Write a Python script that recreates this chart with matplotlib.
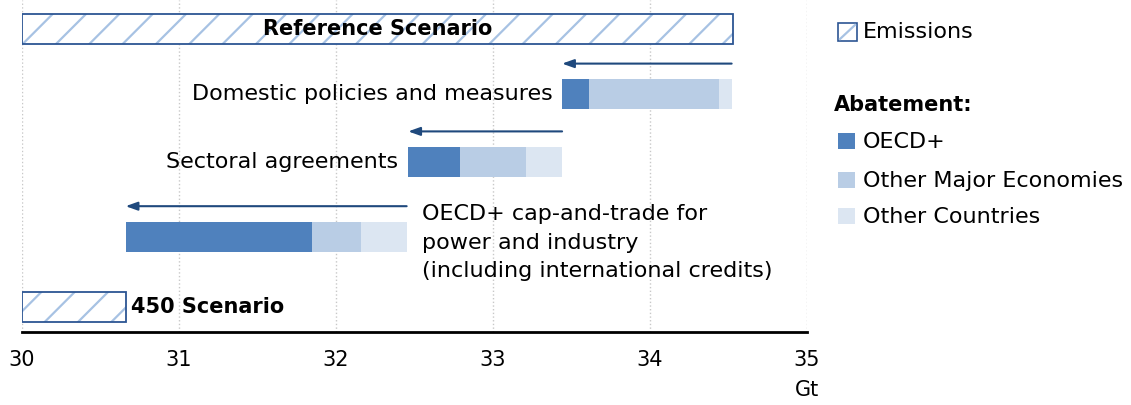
import matplotlib.pyplot as plt
from matplotlib.patches import Rectangle
from matplotlib.lines import Line2D

# emissions (Gt), bars start at the axis minimum
scenarios = ["Reference Scenario", "450 Scenario"]
emissions = [34.53, 30.66]

# abatement steps, each bar runs from start to start + sum of parts
steps = ["Domestic policies and measures", "Sectoral agreements",
         "OECD+ cap-and-trade for\npower and industry\n(including international credits)"]
step_start = [33.44, 32.46, 30.66]
oecd = [0.17, 0.33, 1.19]
major = [0.83, 0.42, 0.31]
other = [0.08, 0.23, 0.29]

xticks = [30, 31, 32, 33, 34, 35]

C_OECD = "#4F81BD"
C_MAJOR = "#B9CDE5"
C_OTHER = "#DCE6F2"
C_EDGE = "#2C5593"
C_HATCH = "#A7C2E3"
C_ARROW = "#1F497D"
FS = 16
FS_B = 15

plt.rcParams['font.family'] = ['DejaVu Sans']
plt.rcParams['hatch.linewidth'] = 1.6

W, H = 1131, 405
fig = plt.figure(figsize=(W / 100, H / 100), dpi=100)
ax = fig.add_axes([22 / W, 1 - 332 / H, (807 - 22) / W, 332 / H])

ypos_em = [3.97, 0.0]
ypos_step = [3.04, 2.07, 1.0]
bh = 0.43
x0 = xticks[0]

# emissions bars: hatch layer + dark outline
for name, val, y in zip(scenarios, emissions, ypos_em):
    ax.barh(y, val - x0, left=x0, height=bh, color="white", edgecolor=C_HATCH,
            hatch="/", linewidth=0, zorder=2)
    ax.barh(y, val - x0, left=x0, height=bh, fill=False, edgecolor=C_EDGE,
            linewidth=1.3, zorder=3)

ax.text((x0 + emissions[0]) / 2, ypos_em[0], scenarios[0], ha="center", va="center",
        fontsize=FS_B, fontweight="bold", zorder=4)
ax.annotate(scenarios[1], (emissions[1], ypos_em[1]), xytext=(4, 0),
            textcoords="offset points", ha="left", va="center",
            fontsize=FS_B, fontweight="bold")

# abatement bars
for i, y in enumerate(ypos_step):
    s = step_start[i]
    ax.barh(y, oecd[i], left=s, height=bh, color=C_OECD, zorder=2)
    ax.barh(y, major[i], left=s + oecd[i], height=bh, color=C_MAJOR, zorder=2)
    ax.barh(y, other[i], left=s + oecd[i] + major[i], height=bh, color=C_OTHER, zorder=2)
    end = s + oecd[i] + major[i] + other[i]
    ax.annotate("", xy=(s, y + 0.44), xytext=(end, y + 0.44),
                arrowprops=dict(arrowstyle="-|>,head_length=0.7,head_width=0.25",
                                color=C_ARROW, lw=1.5, shrinkA=0, shrinkB=0))
    if i < 2:
        ax.annotate(steps[i], (s, y), xytext=(-7, 0), textcoords="offset points",
                    ha="right", va="center", fontsize=FS)
    else:
        ax.annotate(steps[i], (end, y - 0.08), xytext=(11, 0), textcoords="offset points",
                    ha="left", va="center", fontsize=FS, linespacing=1.55)

ax.set_xlim(30, 35)
ax.set_ylim(-0.36, 4.39)
ax.set_xticks(xticks)
ax.set_xticklabels([str(t) for t in xticks], fontsize=15)
ax.tick_params(axis="x", length=0, pad=13)
ax.set_yticks([])
ax.xaxis.grid(True, linestyle=":", color="#C8C8C8", linewidth=1)
ax.set_axisbelow(True)
for side in ["top", "left", "right"]:
    ax.spines[side].set_visible(False)
ax.spines["bottom"].set_linewidth(2)
ax.spines["bottom"].set_zorder(5)

fig.text(807 / W, 1 - 390 / H, "Gt", ha="center", va="center", fontsize=15)

# legend built by hand in figure pixels
def px(x, y):
    return x / W, 1 - y / H

def leg_box(x, y, w, h, **kw):
    fx, fy = px(x, y + h)
    fig.add_artist(Rectangle((fx, fy), w / W, h / H, transform=fig.transFigure, **kw))

leg_box(838, 23, 19, 18, facecolor="white", edgecolor="none")
fig.add_artist(Line2D([840 / W, 855 / W], [1 - 39 / H, 1 - 25 / H],
                      transform=fig.transFigure, color=C_HATCH, lw=1.6))
leg_box(838, 23, 19, 18, fill=False, edgecolor=C_EDGE, linewidth=1.2)
fig.text(*px(863, 32), "Emissions", ha="left", va="center", fontsize=FS)
fig.text(*px(834, 105), "Abatement:", ha="left", va="center", fontsize=FS_B, fontweight="bold")

leg_items = [("OECD+", C_OECD, 133), ("Other Major Economies", C_MAJOR, 172),
             ("Other Countries", C_OTHER, 208)]
for label, col, ytop in leg_items:
    leg_box(838, ytop, 17, 16, facecolor=col, edgecolor="none")
    fig.text(*px(863, ytop + 9), label, ha="left", va="center", fontsize=FS)

fig.savefig("out.png", dpi=100)
